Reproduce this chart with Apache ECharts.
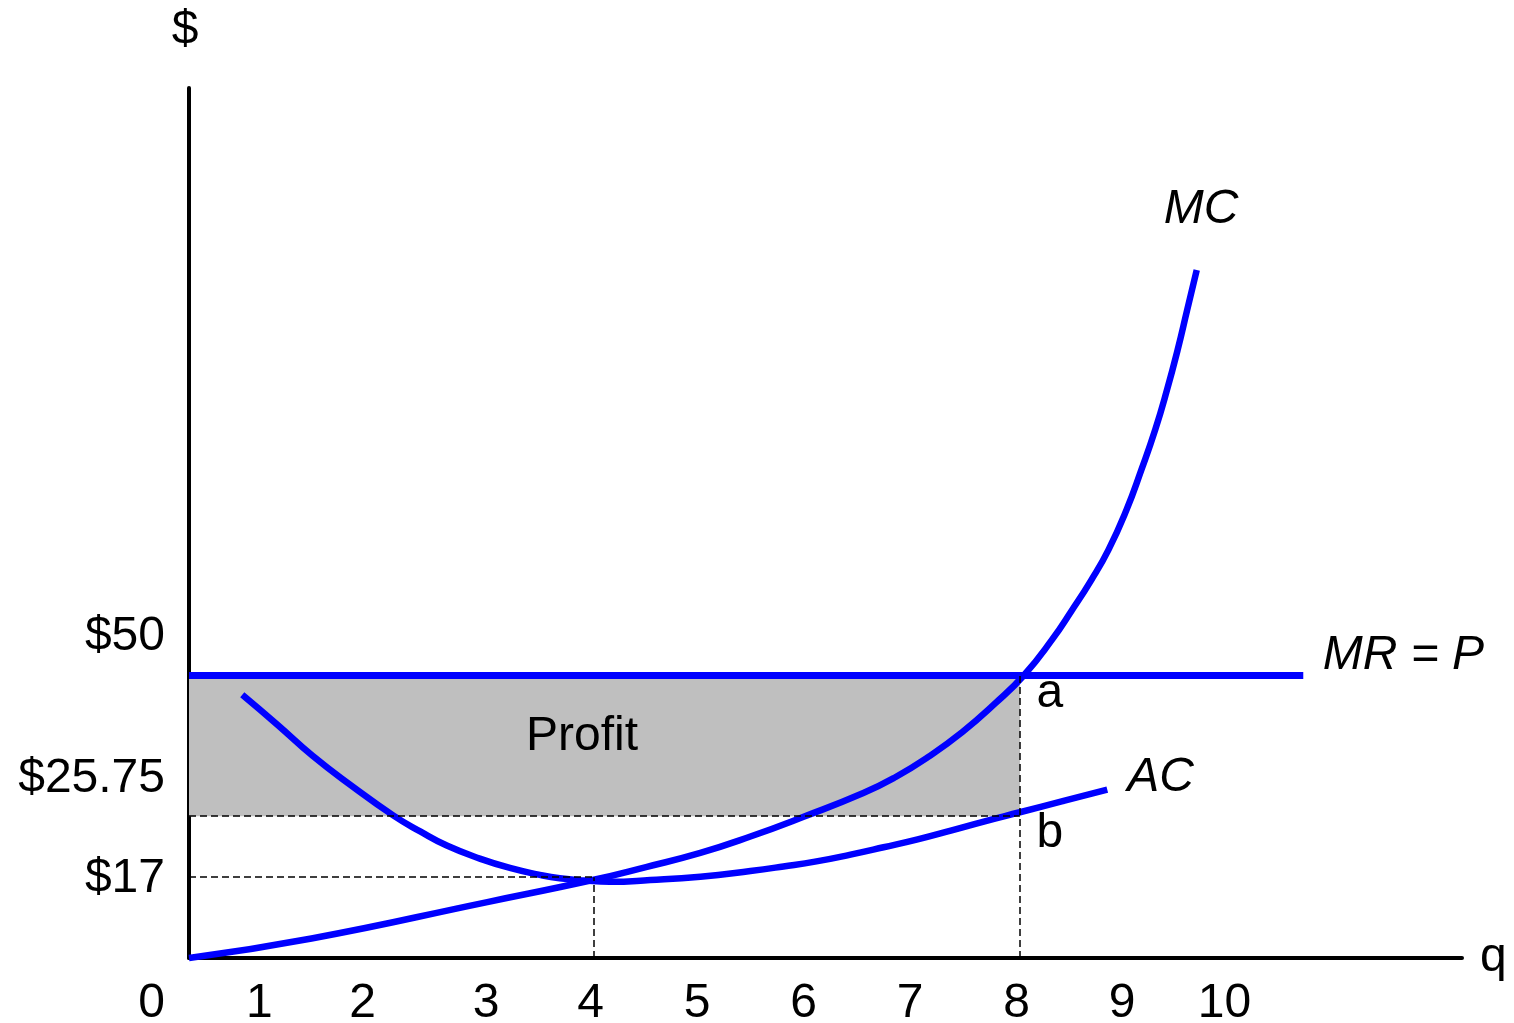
<!DOCTYPE html>
<html>
<head>
<meta charset="utf-8">
<script src="https://cdn.jsdelivr.net/npm/echarts@6/dist/echarts.min.js"></script>
<style>
  html, body { margin: 0; padding: 0; background: #fff; }
  #chart { width: 1514px; height: 1023px; }
</style>
</head>
<body>
<div id="chart"></div>
<script>
// schematic cost diagram: q axis starts at the vertical axis (q = 0.2 there), heights are as drawn
const Q_MIN = 0.2;
const Q_MAX = 12.15;
const P_MAX = 154;

const xTickAt = [0.86, 1.83, 2.99, 3.97, 4.97, 5.97, 6.97, 7.97, 8.96, 9.92];
const xTickLabels = ['1', '2', '3', '4', '5', '6', '7', '8', '9', '10'];

// price levels where they are drawn (the $17 label is not to scale)
const yTickAt = [0, 14.3, 25.1, 50];
const yTickLabels = ['0', '$17', '$25.75', '$50'];

const mcQ = [0.2, 1.35, 3.0, 3.99, 4.49, 5.0, 5.47, 5.97, 6.53, 6.83, 7.14, 7.46, 7.77, 8.04, 8.30, 8.49, 8.67, 8.83, 9.0, 9.14, 9.27, 9.38, 9.48, 9.57, 9.66];
const mcP = [0, 3.45, 9.9, 13.8, 16.1, 18.6, 21.5, 25.0, 29.2, 32.0, 35.6, 40.0, 45.1, 50.1, 56.3, 61.6, 66.9, 72.2, 79.3, 86.4, 93.5, 100.5, 107.6, 114.7, 121.8];

const acQ = [0.70, 1.03, 1.36, 1.74, 2.12, 2.37, 2.62, 2.93, 3.24, 3.47, 3.68, 3.92, 4.15, 4.53, 5.0, 5.47, 5.78, 6.09, 6.41, 6.72, 7.04, 7.36, 7.67, 8.0, 8.41, 8.82];
const acP = [46.6, 41.3, 35.8, 30.3, 25.2, 22.4, 19.9, 17.6, 15.8, 14.8, 14.1, 13.7, 13.5, 13.8, 14.4, 15.4, 16.2, 17.1, 18.3, 19.6, 21.0, 22.6, 24.2, 25.8, 27.8, 29.8];

const mrQ = [0.2, 10.66];
const mrP = [50, 50];

const qOpt = 8;          // MR = MC
const qMinAC = 4;        // AC minimum
const priceMR = 50;
const priceAC = 25.1;    // $25.75 line
const priceMinAC = 14.3; // $17 line

const notes = ['MC', 'MR = P', 'AC', 'a', 'b', 'Profit'];
const notesQ = [9.70, 11.60, 9.32, 8.28, 8.28, 3.89];
const notesP = [132.4, 53.5, 31.9, 46.8, 22.0, 39.2];
const notesItalic = [true, true, true, false, false, false];

const FONT = '"Liberation Sans", Arial, Helvetica, sans-serif';
const FS = 48;
const BLUE = '#0000ff';
const pair = (xs, ys) => xs.map((x, i) => [x, ys[i]]);
const findIdx = (arr, v) => arr.findIndex(a => Math.abs(a - v) < 1e-6);

const chart = echarts.init(document.getElementById('chart'));

const dashed = { color: '#000', width: 1.5, type: [7, 4] };

const option = {
  animation: false,
  backgroundColor: '#ffffff',
  textStyle: { fontFamily: FONT, color: '#000' },
  grid: { left: 189, right: 52, top: 88, bottom: 65, outerBoundsMode: 'none' },
  xAxis: {
    type: 'value',
    min: Q_MIN,
    max: Q_MAX,
    name: 'q',
    nameLocation: 'end',
    nameGap: 18,
    nameTextStyle: { fontSize: FS, color: '#000', fontFamily: FONT, padding: [0, 0, 60, 0] },
    axisLine: { onZero: false, lineStyle: { color: '#000', width: 4 } },
    axisTick: { show: false },
    splitLine: { show: false },
    axisLabel: {
      customValues: xTickAt,
      formatter: v => xTickLabels[findIdx(xTickAt, v)],
      fontSize: FS,
      color: '#000',
      fontFamily: FONT,
      margin: 22
    }
  },
  yAxis: {
    type: 'value',
    min: 0,
    max: P_MAX,
    name: '$',
    nameLocation: 'end',
    nameGap: 33,
    nameTextStyle: { fontSize: FS, color: '#000', fontFamily: FONT, align: 'center', padding: [0, 8, 0, 0] },
    axisLine: { onZero: false, lineStyle: { color: '#000', width: 4 } },
    axisTick: { show: false },
    splitLine: { show: false },
    axisLabel: {
      customValues: yTickAt,
      formatter: v => {
        const i = findIdx(yTickAt, v);
        return '{t' + i + '|' + yTickLabels[i] + '}';
      },
      fontSize: FS,
      color: '#000',
      fontFamily: FONT,
      margin: 24,
      rich: {
        t0: { fontSize: FS, color: '#000', padding: [92, 0, 0, 0] },
        t1: { fontSize: FS, color: '#000', padding: [4, 0, 0, 0] },
        t2: { fontSize: FS, color: '#000', padding: [0, 0, 74, 0] },
        t3: { fontSize: FS, color: '#000', padding: [0, 0, 78, 0] }
      }
    }
  },
  series: [
    {
      name: 'guides',
      type: 'line',
      data: [],
      z: 1,
      silent: true,
      markArea: {
        silent: true,
        itemStyle: { color: '#bfbfbf' },
        data: [[{ coord: [Q_MIN, priceAC] }, { coord: [qOpt, priceMR] }]]
      },
      markLine: {
        silent: true,
        symbol: 'none',
        label: { show: false },
        lineStyle: dashed,
        data: [
          [{ coord: [Q_MIN, priceAC] }, { coord: [qOpt, priceAC] }],
          [{ coord: [Q_MIN, priceMinAC] }, { coord: [qMinAC, priceMinAC] }],
          [{ coord: [qMinAC, 0] }, { coord: [qMinAC, priceMinAC] }],
          [{ coord: [qOpt, 0] }, { coord: [qOpt, priceMR] }]
        ]
      }
    },
    {
      name: 'MR = P',
      type: 'line',
      data: pair(mrQ, mrP),
      z: 3,
      symbol: 'none',
      clip: false,
      lineStyle: { color: BLUE, width: 7 }
    },
    {
      name: 'MC',
      type: 'line',
      data: pair(mcQ, mcP),
      z: 4,
      symbol: 'none',
      smooth: 0.5,
      clip: false,
      lineStyle: { color: BLUE, width: 6.5 }
    },
    {
      name: 'AC',
      type: 'line',
      data: pair(acQ, acP),
      z: 4,
      symbol: 'none',
      smooth: 0.5,
      clip: false,
      lineStyle: { color: BLUE, width: 6.5 }
    },
    {
      name: 'notes',
      type: 'scatter',
      z: 5,
      silent: true,
      symbolSize: 1,
      itemStyle: { color: 'rgba(0,0,0,0)' },
      data: notes.map((t, i) => ({
        name: t,
        value: [notesQ[i], notesP[i]],
        label: { fontStyle: notesItalic[i] ? 'italic' : 'normal', color: '#000000' }
      })),
      label: {
        show: true,
        position: 'inside',
        formatter: p => p.name,
        fontSize: FS,
        color: '#000000',
        textBorderWidth: 0,
        textShadowBlur: 0,
        opacity: 1,
        fontFamily: FONT
      }
    }
  ]
};

chart.setOption(option);
</script>
</body>
</html>
